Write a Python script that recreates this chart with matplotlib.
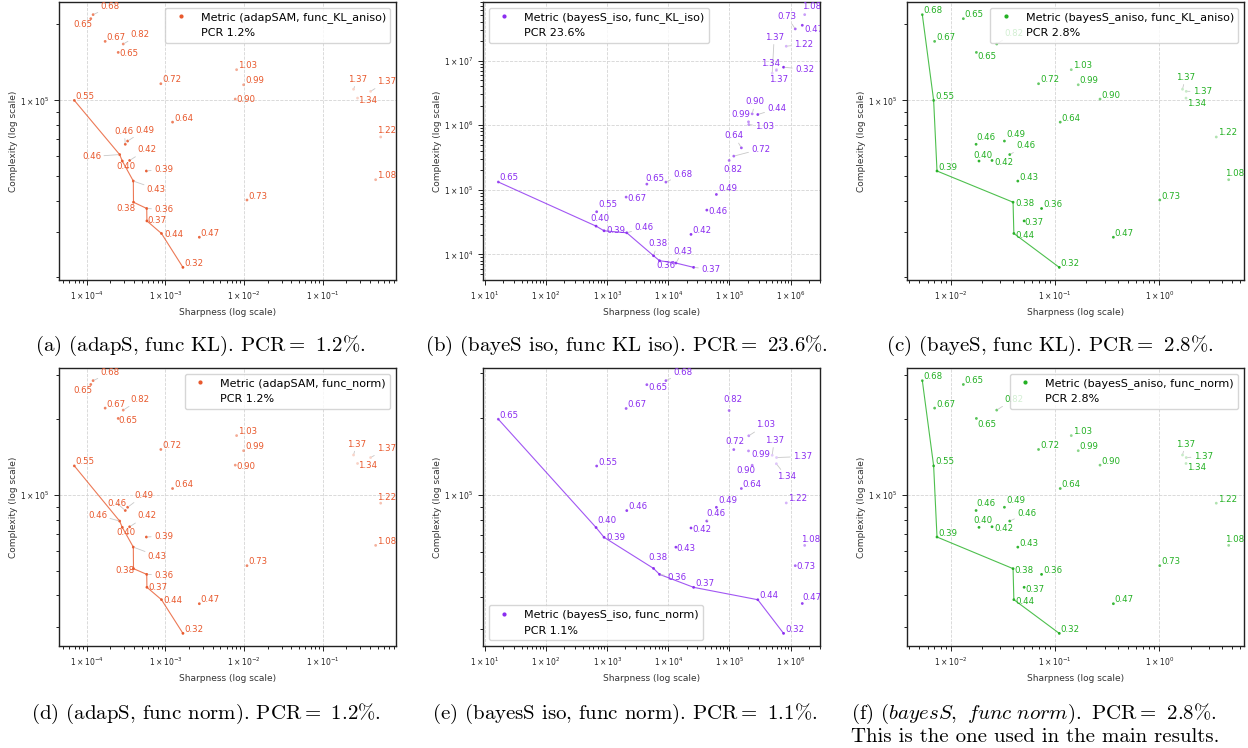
import numpy as np
import matplotlib
matplotlib.use("Agg")
import matplotlib.pyplot as plt
import matplotlib.ticker as mticker
from matplotlib.lines import Line2D

plt.rcParams["font.size"] = 6
plt.rcParams["axes.linewidth"] = 1.0

# same 30 models in every panel, labelled by their metric value
labels = ["0.68", "0.65", "0.67", "0.82", "0.65", "0.72", "1.03", "0.99", "0.90", "0.55",
          "0.64", "0.46", "0.49", "0.46", "0.40", "0.42", "0.39", "0.43", "0.38", "0.36",
          "0.37", "0.44", "0.47", "0.32", "0.73", "1.37", "1.37", "1.34", "1.22", "1.08"]

# sharpness
sharp_adap = [1.205e-4, 1.125e-4, 1.714e-4, 2.911e-4, 2.512e-4, 8.75e-4, 8.04e-3, 9.86e-3, 7.73e-3, 6.95e-5,
              1.233e-3, 3.09e-4, 3.31e-4, 2.62e-4, 2.83e-4, 3.51e-4, 5.73e-4, 3.91e-4, 3.93e-4, 5.79e-4,
              5.82e-4, 8.91e-4, 2.70e-3, 1.671e-3, 1.089e-2, 0.2466, 0.4064, 0.2773, 0.5458, 0.4710]
sharp_iso = [9.16e3, 4.47e3, 2.05e3, 9.89e4, 16.7, 1.178e5, 2.07e5, 2.05e5, 2.355e5, 676,
             1.567e5, 2.10e3, 6.12e4, 4.27e4, 661, 2.355e4, 893, 1.334e4, 5.75e3, 7.21e3,
             2.60e4, 2.91e5, 1.552e6, 7.67e5, 1.191e6, 5.00e5, 5.89e5, 5.85e5, 8.49e5, 1.698e6]
sharp_aniso = [5.35e-3, 1.324e-2, 7.02e-3, 2.767e-2, 1.766e-2, 6.97e-2, 0.1436, 0.1675, 0.2710, 6.87e-3,
               0.1125, 1.754e-2, 3.28e-2, 3.69e-2, 1.871e-2, 2.495e-2, 7.40e-3, 4.41e-2, 3.97e-2, 7.45e-2,
               5.07e-2, 4.04e-2, 0.3639, 0.1102, 1.014, 1.675, 1.820, 1.810, 3.532, 4.645]

# complexity
cplx_kl = [2.186e5, 2.107e5, 1.713e5, 1.672e5, 1.549e5, 1.164e5, 1.323e5, 1.153e5, 1.012e5, 1.0e5,
           8.20e4, 6.70e4, 6.90e4, 6.10e4, 5.75e4, 5.78e4, 5.25e4, 4.79e4, 3.95e4, 3.73e4,
           3.33e4, 2.97e4, 2.87e4, 2.18e4, 4.03e4, 1.107e5, 1.086e5, 1.021e5, 7.16e4, 4.85e4]
cplx_norm = [2.844e5, 2.746e5, 2.213e5, 2.173e5, 2.014e5, 1.517e5, 1.722e5, 1.500e5, 1.315e5, 1.306e5,
             1.062e5, 8.69e4, 8.95e4, 7.89e4, 7.45e4, 7.49e4, 6.82e4, 6.22e4, 5.11e4, 4.85e4,
             4.31e4, 3.85e4, 3.71e4, 2.83e4, 5.25e4, 1.442e5, 1.409e5, 1.335e5, 9.29e4, 6.32e4]
cplx_iso_kl = [1.315e5, 1.225e5, 7.71e4, 2.844e5, 1.32e5, 3.32e5, 1.023e6, 1.127e6, 1.496e6, 4.57e4,
               4.46e5, 2.16e4, 8.47e4, 4.85e4, 2.74e4, 2.04e4, 2.32e4, 7.35e3, 9.53e3, 7.98e3,
               6.30e3, 1.462e6, 3.52e7, 7.89e6, 3.09e7, 6.37e6, 7.26e6, 7.00e6, 1.667e7, 5.14e7]
cplx_iso_norm = [2.80e5, 2.70e5, 2.18e5, 2.14e5, 1.98e5, 1.507e5, 1.706e5, 1.489e5, 1.309e5, 1.300e5,
                 1.062e5, 8.71e4, 8.97e4, 7.93e4, 7.48e4, 7.45e4, 6.85e4, 6.27e4, 5.18e4, 4.91e4,
                 4.37e4, 3.91e4, 3.78e4, 2.89e4, 5.31e4, 1.432e5, 1.403e5, 1.327e5, 9.33e4, 6.37e4]

legend_names = ["Metric (adapSAM, func_KL_aniso)", "Metric (bayesS_iso, func_KL_iso)",
                "Metric (bayesS_aniso, func_KL_aniso)", "Metric (adapSAM, func_norm)",
                "Metric (bayesS_iso, func_norm)", "Metric (bayesS_aniso, func_norm)"]
pcr = ["1.2", "23.6", "2.8", "1.2", "1.1", "2.8"]
captions = ["(a) (adapS, func KL). PCR$=$ 1.2%.",
            "(b) (bayeS iso, func KL iso). PCR$=$ 23.6%.",
            "(c) (bayeS, func KL). PCR$=$ 2.8%.",
            "(d) (adapS, func norm). PCR$=$ 1.2%.",
            "(e) (bayesS iso, func norm). PCR$=$ 1.1%.",
            r"(f) $\mathit{(bayesS,}$ $\mathit{func\ norm).}$ PCR$=$ 2.8%."]
caption_extra = "This is the one used in the main results."

C_ADAP = "#e8582c"
C_ISO = "#8a2cf0"
C_ANISO = "#22b022"

# label placement (pixel offset of label centre from the point, leader line?)
DEF = (11, -4, False)
lab_a = {0: (17, -8, True), 1: (-8, 6, False), 3: (17, -10, True), 4: (11, 1, False),
         8: (11, 0, False), 11: (-1, -13, True), 12: (17, -11, True), 13: (-28, 2, True),
         14: (4, 5, False), 15: (17, -11, True), 16: (17, -2, True), 17: (23, 8, True),
         18: (-8, 6, False), 19: (17, 1, True), 20: (10, 0, False), 21: (12, 1, False),
         25: (4, -10, True), 26: (16, -10, True), 27: (10, 2, False), 28: (6, -6, False)}
lab_d = {0: (17, -8, True), 1: (-8, 6, False), 3: (17, -11, True), 4: (10, 2, False),
         8: (11, 1, False), 11: (-8, -7, True), 12: (16, -12, True), 13: (-22, -6, True),
         14: (4, 5, False), 15: (17, -11, True), 16: (17, -1, True), 17: (24, 9, True),
         18: (-9, 2, False), 19: (17, 1, True), 20: (11, 0, False), 21: (11, 1, False),
         25: (3, -11, True), 26: (16, -9, True), 27: (10, 2, False), 28: (6, -6, False)}
lab_c = {3: (17, -11, True), 4: (11, 4, False), 11: (10, -7, False), 12: (11, -7, False),
         13: (16, -9, True), 14: (4, -6, False), 15: (12, 2, False), 18: (12, 1, False),
         20: (10, 2, False), 21: (11, 2, False), 25: (3, -12, True), 26: (16, 0, True),
         27: (11, 5, False), 29: (6, -6, False)}
lab_f = {3: (17, -11, True), 4: (11, 6, False), 11: (10, -7, False), 12: (11, -7, False),
         13: (17, -8, True), 14: (4, -7, False), 15: (12, 2, False), 18: (11, 2, False),
         20: (11, 2, False), 21: (11, 2, False), 25: (3, -11, True), 26: (17, -1, True),
         27: (11, 4, False), 29: (6, -6, False)}
lab_b = {0: (17, -8, True), 1: (8, -6, False), 2: (11, 1, False), 3: (4, 9, False),
         5: (27, -7, True), 10: (-7, -12, True), 8: (3, -12, True), 7: (-8, -7, False),
         6: (16, 2, True), 21: (19, -6, True), 9: (11, -7, False), 14: (4, -8, False),
         16: (12, 0, False), 11: (17, -5, True), 18: (4, -12, True), 19: (6, 5, False),
         17: (7, -12, True), 20: (17, 2, True), 13: (11, 1, False), 12: (11, -6, False),
         27: (-6, -7, False), 25: (2, -36, True), 26: (2, 10, False), 23: (21, 2, True),
         28: (17, -2, True), 24: (-8, -12, True), 22: (12, 4, False), 29: (7, -8, False)}
lab_e = {1: (11, 3, False), 0: (17, -8, True), 3: (4, -11, False), 14: (11, -7, False),
         16: (12, 0, False), 18: (4, -11, False), 19: (17, 3, True), 17: (10, 1, False),
         15: (11, 2, False), 13: (9, -8, True), 12: (11, -7, False), 5: (1, -8, False),
         7: (12, 4, False), 8: (-6, 5, False), 6: (17, -11, True), 25: (2, -15, True),
         26: (26, -1, True), 27: (10, 13, True), 29: (6, -6, False), 24: (11, 1, False),
         22: (10, -6, False)}

panels = [
    (sharp_adap, cplx_kl, C_ADAP, lab_a, "upper right"),
    (sharp_iso, cplx_iso_kl, C_ISO, lab_b, "upper left"),
    (sharp_aniso, cplx_kl, C_ANISO, lab_c, "upper right"),
    (sharp_adap, cplx_norm, C_ADAP, lab_d, "upper right"),
    (sharp_iso, cplx_iso_norm, C_ISO, lab_e, "lower left"),
    (sharp_aniso, cplx_norm, C_ANISO, lab_f, "upper right"),
]

W, H = 1248, 748
lefts = [59, 483, 907]
tops = [2, 368]


def pareto(x, y):
    best = np.inf
    front = []
    for i in np.argsort(x):
        if y[i] < best:
            front.append(i)
            best = y[i]
    return front


def sci(v, pos):
    return r"$1\times10^{%d}$" % int(round(np.log10(v)))


fig = plt.figure(figsize=(W / 100, H / 100), dpi=100)
vals = np.array([float(s) for s in labels])
alphas = np.clip(1 - 0.75 * (vals - 0.32) / (1.37 - 0.32), 0.2, 1)

for k, (sx, cy, color, labpos, loc) in enumerate(panels):
    r, c = divmod(k, 3)
    ax = fig.add_axes([lefts[c] / W, 1 - (tops[r] + 278) / H, 337 / W, 278 / H])
    x = np.array(sx)
    y = np.array(cy)
    ax.set_xscale("log")
    ax.set_yscale("log")
    front = pareto(x, y)
    ax.plot(x[front], y[front], color=color, lw=0.8, alpha=0.8, zorder=2)
    rgba = np.array([matplotlib.colors.to_rgba(color, a) for a in alphas])
    ax.scatter(x, y, s=4, c=rgba, linewidths=0, zorder=3)
    for i, lab in enumerate(labels):
        dx, dy, lead = labpos.get(i, DEF)
        kw = {}
        if lead:
            kw["arrowprops"] = dict(arrowstyle="-", color="#c8c8c8", lw=0.6, shrinkA=0, shrinkB=1)
        ax.annotate(lab, (x[i], y[i]), xytext=(dx * 0.72, -dy * 0.72), textcoords="offset points",
                    ha="center", va="center", fontsize=6.2, color=color, clip_on=True, zorder=4, **kw)

    ax.grid(True, which="major", linestyle="--", color="#d4d4d4", linewidth=0.6)
    ax.set_axisbelow(True)
    ax.xaxis.set_major_formatter(mticker.FuncFormatter(sci))
    ax.yaxis.set_major_formatter(mticker.FuncFormatter(sci))
    ax.xaxis.set_minor_formatter(mticker.NullFormatter())
    ax.yaxis.set_minor_formatter(mticker.NullFormatter())
    ax.tick_params(which="both", labelsize=5.5, colors="#222222", width=0.7)
    ax.tick_params(which="major", length=3.5)
    ax.tick_params(which="minor", length=2)
    for sp in ax.spines.values():
        sp.set_color("#222222")
    ax.set_xlabel("Sharpness (log scale)", fontsize=6.5, color="#333333")
    ax.set_ylabel("Complexity (log scale)", fontsize=6.5, color="#333333", labelpad=1.5)

    h1 = Line2D([], [], marker=".", linestyle="none", color=color, markersize=4)
    h2 = Line2D([], [], linestyle="none")
    ax.legend([h1, h2], [legend_names[k], "PCR " + pcr[k] + "%"], loc=loc, fontsize=8,
              framealpha=0.8, borderpad=0.4, handletextpad=0.8)

cap_x = [200, 626, 1050, 206, 625]
cap_y = [346, 346, 346, 714, 714]
for k in range(5):
    fig.text(cap_x[k] / W, 1 - cap_y[k] / H, captions[k], fontsize=15, family="cmr10",
             math_fontfamily="cm", ha="center", va="center")
fig.text(851 / W, 1 - 714 / H, captions[5], fontsize=15, family="cmr10",
         math_fontfamily="cm", ha="left", va="center")
fig.text(851 / W, 1 - 737 / H, caption_extra, fontsize=15, family="cmr10",
         math_fontfamily="cm", ha="left", va="center")

fig.savefig("out.png", dpi=100)
